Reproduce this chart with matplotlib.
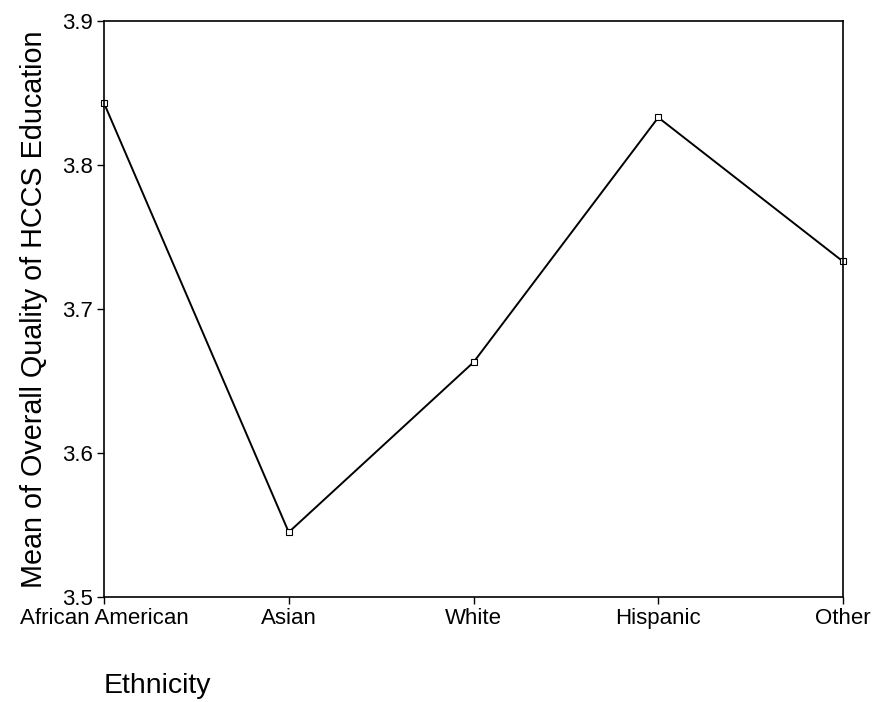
import matplotlib
matplotlib.use("Agg")
import matplotlib.pyplot as plt

plt.rcParams['font.family'] = ['Liberation Sans', 'DejaVu Sans']

ethnicity = ["African American", "Asian", "White", "Hispanic", "Other"]
mean_quality = [3.843, 3.545, 3.663, 3.833, 3.733]
y_ticks = [3.5, 3.6, 3.7, 3.8, 3.9]

fig = plt.figure(figsize=(8.76, 7.02), dpi=100)
ax = fig.add_axes([104 / 876, 1 - 597 / 702, (843 - 104) / 876, (597 - 21) / 702])

x = list(range(len(ethnicity)))
ax.plot(x, mean_quality, color='black', linewidth=1.4, marker='s', markersize=5,
        markerfacecolor='white', markeredgecolor='black', markeredgewidth=0.8,
        clip_on=False)

ax.set_xlim(0, len(ethnicity) - 1)
ax.set_ylim(3.5, 3.9)
ax.set_xticks(x)
ax.set_xticklabels(ethnicity)
ax.set_yticks(y_ticks)
ax.set_yticklabels([f"{v:.1f}" for v in y_ticks])
ax.tick_params(axis='both', labelsize=16, direction='out', length=5, width=1, pad=3)

for s in ax.spines.values():
    s.set_linewidth(1.2)

ax.set_ylabel("Mean of Overall Quality of HCCS Education", fontsize=20.7, labelpad=10)
fig.text(104 / 876, 1 - 686 / 702, "Ethnicity", fontsize=20.5, ha='left', va='center')

fig.savefig("out.png", dpi=100)
